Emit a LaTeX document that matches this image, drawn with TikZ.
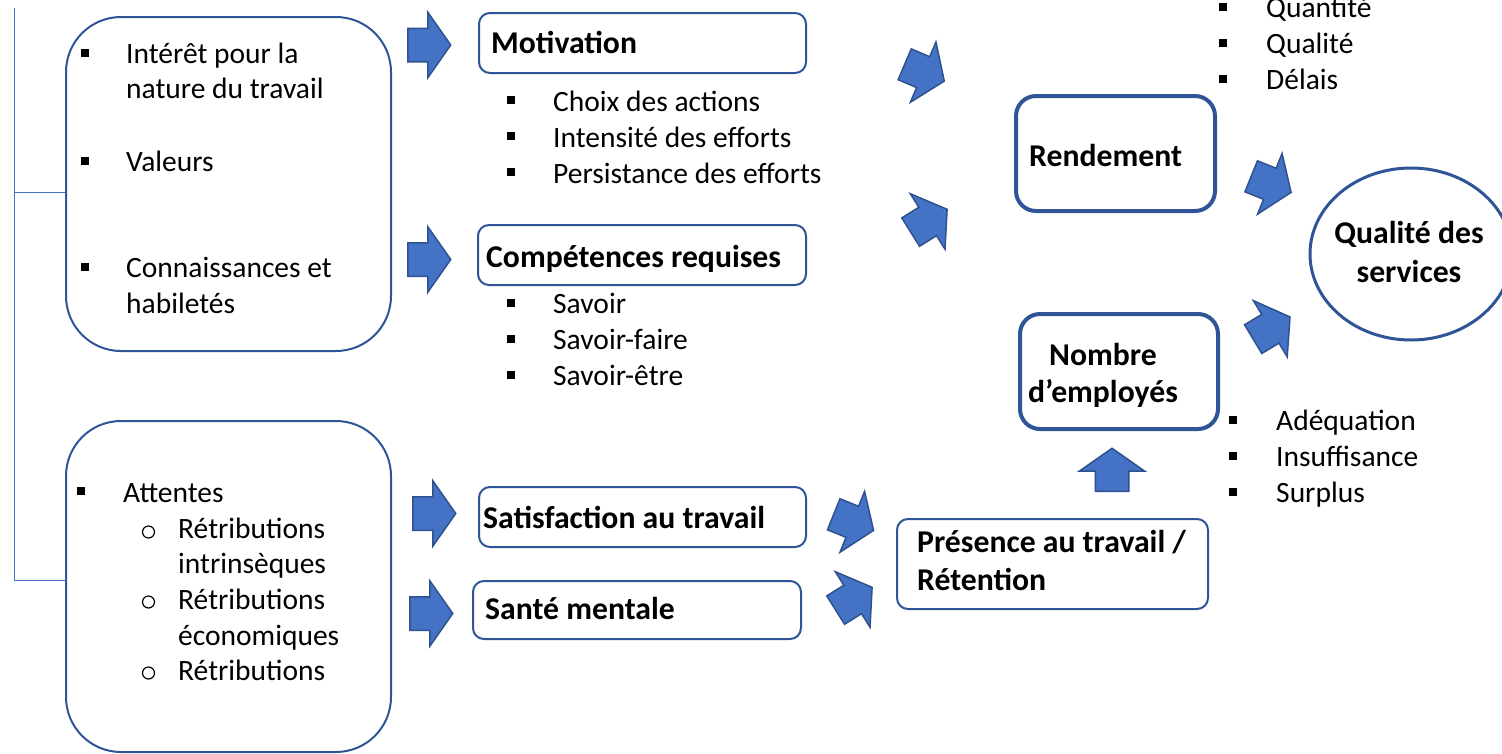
\documentclass[tikz,border=0pt]{standalone}
\usepackage{fontspec}
\setmainfont{Carlito}
\usetikzlibrary{shapes.arrows,shapes.geometric}

\definecolor{boxblue}{HTML}{2F5597}
\definecolor{arrowfill}{HTML}{4472C4}
\definecolor{arrowline}{HTML}{2F528F}
\definecolor{linkblue}{HTML}{4472C4}

\newcommand{\txtfont}{\fontsize{29.5}{35}\selectfont}
\newcommand{\headfont}{\fontsize{31.7}{38}\selectfont\bfseries}

\tikzset{
  bigbox/.style={draw=boxblue, line width=2pt, rounded corners=55pt, anchor=north west, inner sep=0pt},
  headbox/.style={draw=boxblue, line width=2pt, rounded corners=11pt, anchor=north west, inner sep=0pt},
  keybox/.style={draw=boxblue, line width=4pt, rounded corners=20pt, anchor=north west, inner sep=0pt},
  blockarrow/.style={single arrow, draw=arrowline, fill=arrowfill, line width=1.5pt,
    minimum height=43pt, inner xsep=0pt, inner ysep=16pt, single arrow head extend=16pt,
    single arrow tip angle=110, anchor=tail},
  txt/.style={font=\txtfont, anchor=base west, inner sep=0pt},
  headtxt/.style={font=\headfont, anchor=base west, inner sep=0pt},
  sqbullet/.style={fill=black, minimum size=8pt, inner sep=0pt},
  obullet/.style={draw, circle, line width=1.2pt, minimum size=12pt, inner sep=0pt},
}

\begin{document}
\begin{tikzpicture}[x=1pt, y=-1pt]
\useasboundingbox (0,0) rectangle (1502,753);

% cadres de gauche
\node[bigbox, minimum width=325pt, minimum height=334pt] (facteurs) at (65,16) {};
\node[bigbox, minimum width=325pt, minimum height=331pt] (attentes) at (65,420) {};

% accolade
\coordinate (brtop) at (14,8);
\draw[linkblue, line width=1pt] (brtop) |- ([yshift=-8pt]facteurs.west);
\draw[linkblue, line width=1pt] (brtop) |- ([yshift=6pt]attentes.west);

\node[sqbullet] (f1b) at (85,53) {};
\node[txt] (f1) at (126,63) {Intérêt pour la};
\node[txt] (f1c) at (126,98) {nature du travail};
\node[sqbullet] (f2b) at (85,161) {};
\node[txt] (f2) at (126,171) {Valeurs};
\node[sqbullet] (f3b) at (85,267) {};
\node[txt] (f3) at (126,277) {Connaissances et};
\node[txt] (f3c) at (126,313) {habiletés};

\node[sqbullet] (a0b) at (81,491) {};
\node[txt] (a0) at (123,502) {Attentes};
\node[obullet] (a1b) at (148.5,532) {};
\node[txt] (a1) at (178,538) {Rétributions};
\node[txt] (a1c) at (178,573) {intrinsèques};
\node[obullet] (a2b) at (148.5,602) {};
\node[txt] (a2) at (178,609) {Rétributions};
\node[txt] (a2c) at (178,645) {économiques};
\node[obullet] (a3b) at (148.5,673) {};
\node[txt] (a3) at (178,680) {Rétributions};

% fleches vers le centre
\node[blockarrow] (fl1) at (407,45) {};
\node[blockarrow] (fl2) at (407,259.5) {};
\node[blockarrow] (fl3) at (412,513.5) {};
\node[blockarrow] (fl4) at (409,613.5) {};

% colonne du centre
\node[headbox, minimum width=327pt, minimum height=60pt] (motiv) at (478,12) {};
\node[headtxt] (motivt) at (491,53) {Motivation};
\foreach \t [count=\i] in {Choix des actions, Intensité des efforts, Persistance des efforts} {
  \node[sqbullet] (mb\i) at (511,64+36*\i) {};
  \node[txt] (m\i) at (553,75+36*\i) {\t};
}

\node[headbox, minimum width=328pt, minimum height=60pt] (compet) at (477,224) {};
\node[headtxt] (compett) at (486,267) {Compétences requises};
\foreach \t [count=\i] in {Savoir, Savoir-faire, Savoir-être} {
  \node[sqbullet] (cb\i) at (511,267+36*\i) {};
  \node[txt] (c\i) at (553,277+36*\i) {\t};
}

\node[headbox, minimum width=327pt, minimum height=60pt] (satisf) at (478,486) {};
\node[headtxt] (satisft) at (483,528) {Satisfaction au travail};
\node[headbox, minimum width=328pt, minimum height=58pt] (sante) at (472,580) {};
\node[headtxt] (santet) at (485,619) {Santé mentale};

% fleches obliques
\node[blockarrow, rotate=-23] (fr1) at (904,64) {};
\node[blockarrow, rotate=32] (fr2) at (910,232.5) {};
\node[blockarrow, rotate=-22] (fs1) at (833,514) {};
\node[blockarrow, rotate=32] (fs2) at (835,610.5) {};
\node[blockarrow, rotate=-22] (fq1) at (1250.5,176) {};
\node[blockarrow, rotate=31] (fq2) at (1252.5,339.5) {};
\node[blockarrow, rotate=90] (fn) at (1112,492) {};

% colonne de droite
\node[keybox, minimum width=199pt, minimum height=115pt] (rend) at (1014,94) {};
\node[headtxt] (rendt) at (1029,166) {Rendement};
\foreach \t [count=\i] in {Quantité, Qualité, Délais} {
  \node[sqbullet] (rb\i) at (1223,-29+36*\i) {};
  \node[txt] (r\i) at (1266,-19+36*\i) {\t};
}

\node[keybox, minimum width=198pt, minimum height=115pt] (nombre) at (1018,312) {};
\node[headtxt, anchor=base] (nombre1) at (1103,365) {Nombre};
\node[headtxt, anchor=base] (nombre2) at (1103,402) {d’employés};
\foreach \t [count=\i] in {Adéquation, Insuffisance, Surplus} {
  \node[sqbullet] (nb\i) at (1233,384+36*\i) {};
  \node[txt] (n\i) at (1276,394+36*\i) {\t};
}

\node[headbox, minimum width=311pt, minimum height=90pt] (presence) at (896,518) {};
\node[headtxt] (presence1) at (917,552) {Présence au travail /};
\node[headtxt] (presence2) at (917,590) {Rétention};

\node[draw=boxblue, line width=3pt, ellipse, minimum width=202pt, minimum height=172pt] (qualite) at (1411,254) {};
\node[headtxt, anchor=base] (qualite1) at (1409,243) {Qualité des};
\node[headtxt, anchor=base] (qualite2) at (1409,282) {services};
\end{tikzpicture}
\end{document}
